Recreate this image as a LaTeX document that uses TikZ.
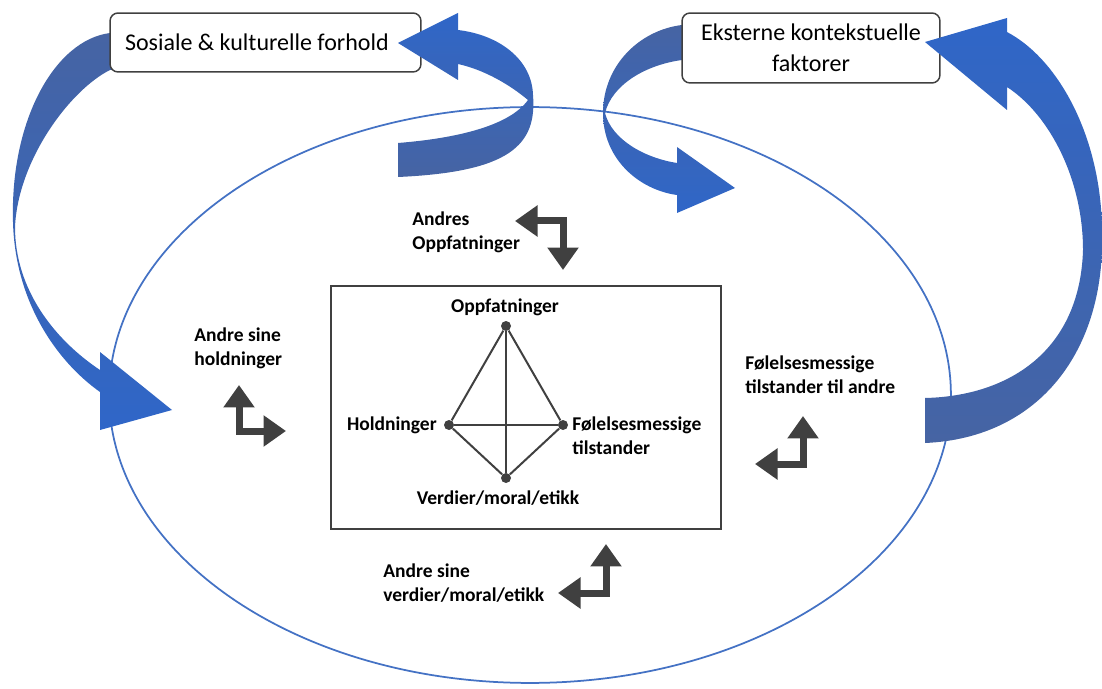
\documentclass[tikz,border=0pt]{standalone}
\usepackage{fontspec}
\setmainfont{Carlito}
\usetikzlibrary{arrows.meta}
\definecolor{linegray}{RGB}{64,64,64}
\definecolor{ringblue}{RGB}{68,114,196}
\definecolor{bluehi}{RGB}{47,102,200}
\definecolor{bluelo}{RGB}{70,100,163}
\begin{document}
\begin{tikzpicture}[x=0.02cm, y=-0.02cm,
    rbox/.style={draw=linegray, line width=0.03cm, rounded corners=0.16cm, fill=white,
        font=\fontsize{13.66}{17.9}\selectfont},
    lbl/.style={font=\bfseries\fontsize{11.1}{13.7}\selectfont, inner sep=0pt, align=left},
    dot/.style={circle, fill=linegray, inner sep=0pt, minimum size=0.2cm},
    tie/.style={draw=linegray, line width=0.04cm},
    elbow/.style={draw=linegray, line width=0.14cm,
        {Triangle[width=0.6cm,length=0.45cm]}-{Triangle[width=0.6cm,length=0.45cm]}}]
    \useasboundingbox (0,0) rectangle (1102,689);

    % Outer ring
    \draw[ringblue, line width=0.035cm] (530,395) ellipse [x radius=8.42cm, y radius=5.76cm];

    % Blue arrows behind the boxes
    \shade[top color=bluelo, bottom color=bluehi]
        (125,33) -- (110,33) .. controls (55,40) and (10,120) .. (13,222)
        .. controls (15,300) and (55,360) .. (100,392)
        -- (100,430) -- (172,410) -- (100,352) -- (100,370)
        .. controls (55,340) and (15,290) .. (15,227)
        .. controls (18,160) and (70,90) .. (110,70) -- (125,70) -- cycle;
    \shade[top color=bluelo, bottom color=bluehi]
        (700,25) -- (682,25) .. controls (640,30) and (603,65) .. (603,113)
        .. controls (603,160) and (640,190) .. (677,195)
        -- (677,213) -- (735,188) -- (677,147) -- (677,163)
        .. controls (645,158) and (612,140) .. (605,113)
        .. controls (612,85) and (645,65) .. (682,60) -- (700,60) -- cycle;

    % Boxes
    \node[rbox, minimum width=6.22cm, minimum height=1.18cm, text width=5.62cm,
        inner xsep=0.3cm, align=flush left] (social) at (265.5,42.5) {Sosiale \& kulturelle forhold};
    \node[rbox, minimum width=5.16cm, minimum height=1.4cm, align=center]
        (extern) at (811,48) {Eksterne kontekstuelle\\faktorer};

    % Blue arrows in front of the boxes
    \shade[top color=bluehi, bottom color=bluelo]
        (398,143) .. controls (460,138) and (510,125) .. (528,100)
        .. controls (510,85) and (485,70) .. (458,64)
        -- (458,80) -- (398,43) -- (458,13) -- (458,30)
        .. controls (500,35) and (532,60) .. (533,95)
        .. controls (537,145) and (510,172) .. (398,177) -- cycle;
    \shade[top color=bluehi, bottom color=bluelo]
        (925,398) .. controls (1010,396) and (1080,350) .. (1083,250)
        .. controls (1083,180) and (1050,115) .. (1007,87)
        -- (1007,110) -- (925,42) -- (1007,18) -- (1007,32)
        .. controls (1060,60) and (1102,140) .. (1102,233)
        .. controls (1105,350) and (1040,438) .. (925,443) -- cycle;

    % Core box with the four corners
    \node[tie, minimum width=7.8cm, minimum height=4.86cm] (core) at (526,407.5) {};
    \node[dot] (opp) at (506,326) {};
    \node[dot] (hold) at (449,425) {};
    \node[dot] (fol) at (563,425) {};
    \node[dot] (verd) at (506,478) {};
    \draw[tie] (opp) -- (hold) -- (verd) -- (fol) -- (opp);
    \draw[tie] (opp) -- (verd);
    \draw[tie] (hold) -- (fol);
    \node[lbl] (oppl) at (505,307) {Oppfatninger};
    \node[lbl, anchor=east] (holdl) at (437,425) {Holdninger};
    \node[lbl, anchor=west] (foll) at (572,436) {Følelsesmessige\\tilstander};
    \node[lbl] (verdl) at (498,498) {Verdier/moral/etikk};

    % Labels outside the core
    \node[lbl, anchor=west] (others1) at (412,232) {Andres\\Oppfatninger};
    \node[lbl, anchor=west] (others2) at (194,348) {Andre sine\\holdninger};
    \node[lbl, anchor=west] (others3) at (745,375) {Følelsesmessige\\tilstander til andre};
    \node[lbl, anchor=west] (others4) at (383,583) {Andre sine\\verdier/moral/etikk};

    % Elbow arrows
    \coordinate (e1a) at (515,221);
    \coordinate (e1c) at (563,221);
    \coordinate (e1b) at (563,270);
    \draw[elbow] (e1a) -- (e1c) -- (e1b);
    \coordinate (e2a) at (239,385);
    \coordinate (e2c) at (239,431);
    \coordinate (e2b) at (286,431);
    \draw[elbow] (e2a) -- (e2c) -- (e2b);
    \coordinate (e3a) at (803,416);
    \coordinate (e3c) at (803,464);
    \coordinate (e3b) at (755,464);
    \draw[elbow] (e3a) -- (e3c) -- (e3b);
    \coordinate (e4a) at (606,544);
    \coordinate (e4c) at (606,593);
    \coordinate (e4b) at (558,593);
    \draw[elbow] (e4a) -- (e4c) -- (e4b);
\end{tikzpicture}
\end{document}
